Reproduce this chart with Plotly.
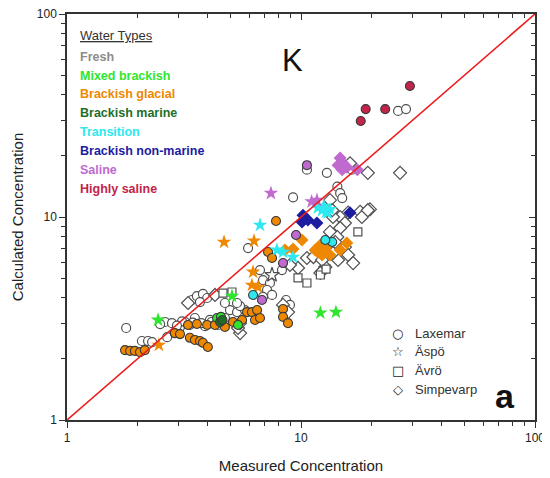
import plotly.graph_objects as go

# ---------------- data (measured x, calculated y) ----------------
fresh_lax_x = [1.79, 2.09, 2.22, 2.31, 2.62, 2.81, 2.50, 2.68, 2.89, 3.04, 3.19, 3.42, 3.59, 3.81, 3.97, 3.70,
               3.52, 4.08, 4.73, 4.97, 5.33, 5.76, 5.49, 4.73, 5.33, 6.68, 6.88, 7.37, 7.16, 7.52, 6.88, 8.29,
               8.63, 8.97, 9.25, 10.6, 12.9, 14.3, 14.7, 15.0, 16.5, 26.0, 28.1, 5.94, 4.42, 3.89, 3.35,
               3.45, 3.75, 4.15, 4.35, 3.10, 2.95]
fresh_lax_y = [2.84, 2.45, 2.45, 2.42, 3.04, 3.00, 2.97, 2.56, 2.68, 2.87, 3.04, 3.90, 4.08, 4.18, 3.99, 3.81,
               3.18, 3.11, 3.18, 3.48, 3.40, 3.48, 3.64, 3.77, 3.77, 5.48, 4.89, 4.73, 4.37, 4.13, 4.04, 5.48,
               3.90, 3.69, 12.5, 17.1, 16.5, 14.1, 13.1, 12.4, 17.1, 33.3, 34.0, 7.03, 2.94, 2.90, 2.94,
               3.02, 3.00, 3.04, 2.98, 3.06, 2.92]

fresh_asp_x = [7.52]
fresh_asp_y = [5.18]

fresh_avr_x = [4.64, 5.07, 12.1, 12.8, 9.71, 10.6, 17.5]
fresh_avr_y = [4.22, 4.27, 5.18, 5.54, 5.01, 4.73, 8.44]

fresh_sim_x = [5.49, 5.38, 5.49, 3.29, 4.29, 8.38, 8.80, 17.9, 19.7, 15.9, 14.7, 15.4, 13.7, 14.7, 13.3, 14.3,
               14.0, 15.4, 15.9, 16.7, 12.7, 12.1, 9.71, 8.97, 10.6, 11.3, 18.2, 19.3, 26.5, 19.3, 16.2, 14.4,
               13.7, 12.3, 13.3, 13.6]
fresh_sim_y = [2.68, 2.84, 3.00, 3.77, 4.13, 3.69, 3.40, 10.6, 10.9, 10.5, 10.0, 9.34, 10.0, 8.83, 8.44, 7.97,
               7.53, 7.11, 6.50, 5.93, 5.67, 5.30, 5.61, 5.80, 6.28, 6.35, 10.0, 10.8, 16.5, 16.5, 18.4, 6.14,
               6.65, 6.14, 12.1, 10.8]

mixed_asp_x = [2.45, 5.07, 12.1, 14.1]
mixed_asp_y = [3.11, 4.08, 3.37, 3.40]
mixed_lax_x = [4.38, 4.55, 5.38]
mixed_lax_y = [3.18, 3.22, 2.94]

glac_lax_x = [1.77, 1.86, 1.95, 2.05, 2.15, 2.89, 3.04, 3.35, 3.52, 3.70, 3.81, 4.00, 3.29, 3.59, 3.97, 4.29,
              5.12, 5.60, 5.88, 6.17, 6.49, 6.36, 6.68, 8.38, 8.38, 8.80, 7.23, 7.52, 7.82, 4.73]
glac_lax_y = [2.21, 2.19, 2.19, 2.16, 2.21, 2.68, 2.65, 2.54, 2.48, 2.45, 2.40, 2.29, 2.94, 2.97, 2.94, 2.94,
              3.04, 3.11, 3.40, 3.40, 3.48, 3.11, 3.18, 3.52, 3.22, 3.00, 6.72, 6.28, 9.56, 2.87]
glac_asp_x = [2.47, 6.30, 6.24, 6.17, 6.55, 4.69]
glac_asp_y = [2.34, 7.62, 5.36, 4.62, 4.52, 7.53]
glac_sim_x = [10.1, 9.25, 8.54, 12.1, 11.8, 12.7, 13.3, 12.3, 11.5, 14.7, 15.7, 13.0]
glac_sim_y = [7.70, 6.96, 6.88, 7.28, 6.72, 7.03, 6.50, 6.50, 6.88, 6.88, 7.45, 7.45]

marine_lax_x = [4.51, 4.62]
marine_lax_y = [3.04, 3.11]

trans_asp_x = [11.8, 12.3, 12.8, 13.3, 12.5, 13.0, 6.68, 7.89, 8.38, 9.25]
trans_asp_y = [11.1, 10.8, 10.6, 10.9, 11.3, 10.5, 9.13, 6.88, 6.72, 6.35]
trans_lax_x = [6.24, 13.6, 12.7]
trans_lax_y = [4.13, 7.53, 7.70]

nonmar_sim_x = [10.2, 10.7, 10.1, 11.7, 16.2]
nonmar_sim_y = [10.2, 9.67, 9.45, 9.34, 10.5]

saline_sim_x = [14.7, 15.1, 15.7, 17.4, 15.0, 14.4]
saline_sim_y = [19.5, 18.4, 17.6, 17.1, 17.1, 18.0]
saline_asp_x = [7.44, 11.1, 11.7]
saline_asp_y = [13.1, 11.9, 12.1]
saline_lax_x = [10.6, 9.52, 8.38, 6.81]
saline_lax_y = [18.0, 8.15, 5.93, 3.90]

high_lax_x = [29.2, 18.9, 22.9, 18.0]
high_lax_y = [44.2, 34.0, 34.0, 29.7]

line_xy = [1, 100]

water_types = ["Fresh", "Mixed brackish", "Brackish glacial", "Brackish marine",
               "Transition", "Brackish non-marine", "Saline", "Highly saline"]
sites = ["Laxemar", "Äspö", "Ävrö", "Simpevarp"]

# ---------------- styles ----------------
COL = {
    "Fresh": "#8c8c8c",
    "Mixed brackish": "#2ee62e",
    "Brackish glacial": "#ee8800",
    "Brackish marine": "#1e6e28",
    "Transition": "#2ee8f0",
    "Brackish non-marine": "#1c1ca0",
    "Saline": "#c06ad0",
    "Highly saline": "#c2244a",
}
SYM = {"Laxemar": "circle", "Äspö": "star", "Ävrö": "square", "Simpevarp": "diamond"}
SIZE = {"Laxemar": 9, "Äspö": 11, "Ävrö": 8, "Simpevarp": 10}

fig = go.Figure()


def add(xs, ys, wtype, site):
    if wtype == "Fresh":
        marker = dict(symbol=SYM[site], size=SIZE[site], color="white",
                      line=dict(color="#505050", width=1.2))
    elif site == "Laxemar":
        marker = dict(symbol="circle", size=SIZE[site], color=COL[wtype],
                      line=dict(color="#3a3a3a", width=1.1))
    else:
        marker = dict(symbol=SYM[site], size=SIZE[site], color=COL[wtype],
                      line=dict(color=COL[wtype], width=0))
    fig.add_trace(go.Scatter(x=xs, y=ys, mode="markers", marker=marker,
                             showlegend=False, hoverinfo="skip"))


add(fresh_lax_x, fresh_lax_y, "Fresh", "Laxemar")
add(fresh_sim_x, fresh_sim_y, "Fresh", "Simpevarp")
add(fresh_avr_x, fresh_avr_y, "Fresh", "Ävrö")
add(fresh_asp_x, fresh_asp_y, "Fresh", "Äspö")
add(glac_lax_x, glac_lax_y, "Brackish glacial", "Laxemar")
add(glac_sim_x, glac_sim_y, "Brackish glacial", "Simpevarp")
add(glac_asp_x, glac_asp_y, "Brackish glacial", "Äspö")
add(mixed_lax_x, mixed_lax_y, "Mixed brackish", "Laxemar")
add(mixed_asp_x, mixed_asp_y, "Mixed brackish", "Äspö")
add(marine_lax_x, marine_lax_y, "Brackish marine", "Laxemar")
add(trans_lax_x, trans_lax_y, "Transition", "Laxemar")
add(trans_asp_x, trans_asp_y, "Transition", "Äspö")
add(nonmar_sim_x, nonmar_sim_y, "Brackish non-marine", "Simpevarp")
add(saline_lax_x, saline_lax_y, "Saline", "Laxemar")
add(saline_asp_x, saline_asp_y, "Saline", "Äspö")
add(saline_sim_x, saline_sim_y, "Saline", "Simpevarp")
add(high_lax_x, high_lax_y, "Highly saline", "Laxemar")

# 1:1 line
fig.add_trace(go.Scatter(x=line_xy, y=line_xy, mode="lines",
                         line=dict(color="#ee1c1c", width=1.6),
                         showlegend=False, hoverinfo="skip"))
# dummy trace for mirrored axes
fig.add_trace(go.Scatter(x=[None], y=[None], xaxis="x2", yaxis="y2",
                         mode="markers", showlegend=False, hoverinfo="skip"))

FONT = "Arial, Liberation Sans, sans-serif"
axcol = "#333333"
MINV = [2, 3, 4, 5, 6, 7, 8, 9, 20, 30, 40, 50, 60, 70, 80, 90]
common = dict(type="log", range=[0, 2], showgrid=False, zeroline=False, automargin=False,
              showline=True, linecolor=axcol, linewidth=1.5)

# page body adds an 8px offset, so the figure is sized to fill the rest of the window
fig.update_layout(
    width=542, height=470,
    margin=dict(l=59, r=15, t=6, b=58),
    paper_bgcolor="white", plot_bgcolor="white",
    font=dict(family=FONT, color="#222222", size=12),
    xaxis=dict(**common, ticks="outside", ticklen=6, tickwidth=1.3, tickcolor=axcol,
               tickvals=[1, 10, 100], ticktext=["1", "10", "100"],
               tickfont=dict(size=12, color="#222222"), ticklabeloverflow="allow",
               minor=dict(ticks="outside", ticklen=4, tickwidth=1.2, tickcolor=axcol, tickvals=MINV),
               title=dict(text="Measured Concentration", font=dict(size=15, color="#222222"),
                          standoff=16)),
    yaxis=dict(**common, ticks="outside", ticklen=6, tickwidth=1.3, tickcolor=axcol,
               tickvals=[1, 10, 100], ticktext=["1", "10", "100"],
               tickfont=dict(size=12, color="#222222"), ticklabeloverflow="allow",
               minor=dict(ticks="outside", ticklen=4, tickwidth=1.2, tickcolor=axcol, tickvals=MINV),
               title=dict(text="Calculated Concentration", font=dict(size=15, color="#222222"),
                          standoff=10)),
    xaxis2=dict(**common, overlaying="x", side="top", anchor="y2",
                ticks="inside", ticklen=6, tickwidth=1.3, tickcolor=axcol,
                tickvals=[1, 10, 100], showticklabels=False,
                minor=dict(ticks="inside", ticklen=4, tickwidth=1.2, tickcolor=axcol, tickvals=MINV)),
    yaxis2=dict(**common, overlaying="y", side="right", anchor="x2",
                ticks="inside", ticklen=6, tickwidth=1.3, tickcolor=axcol,
                tickvals=[1, 10, 100], showticklabels=False,
                minor=dict(ticks="inside", ticklen=4, tickwidth=1.2, tickcolor=axcol, tickvals=MINV)),
    showlegend=False,
)

# Water types legend (colored text)
ann = [dict(text="<u>Water Types</u>", x=0.024, y=0.947, xref="paper", yref="paper",
            xanchor="left", yanchor="middle", showarrow=False,
            font=dict(size=13, color="#333333", family=FONT))]
y0 = 0.895
for i, wt in enumerate(water_types):
    ann.append(dict(text="<b>%s</b>" % wt, x=0.024, y=y0 - i * 0.0465, xref="paper", yref="paper",
                    xanchor="left", yanchor="middle", showarrow=False,
                    font=dict(size=12.5, color=COL[wt], family=FONT)))

# big letters
ann.append(dict(text="K", x=0.482, y=0.886, xref="paper", yref="paper", showarrow=False,
                xanchor="center", yanchor="middle", font=dict(size=31, color="#111111", family=FONT)))
ann.append(dict(text="<b>a</b>", x=0.936, y=0.06, xref="paper", yref="paper", showarrow=False,
                xanchor="center", yanchor="middle", font=dict(size=34, color="#111111", family=FONT)))

# site symbol key
glyphs = {"Laxemar": "○", "Äspö": "☆", "Ävrö": "□", "Simpevarp": "◇"}
for i, s in enumerate(sites):
    yy = 0.214 - i * 0.0465
    ann.append(dict(text=glyphs[s], x=0.707, y=yy, xref="paper", yref="paper", showarrow=False,
                    xanchor="center", yanchor="middle",
                    font=dict(size=13, color="#222222", family="DejaVu Sans")))
    ann.append(dict(text=s, x=0.74, y=yy, xref="paper", yref="paper", showarrow=False,
                    xanchor="left", yanchor="middle",
                    font=dict(size=13, color="#333333", family=FONT)))

fig.update_layout(annotations=ann)
fig.write_html("out.html")
